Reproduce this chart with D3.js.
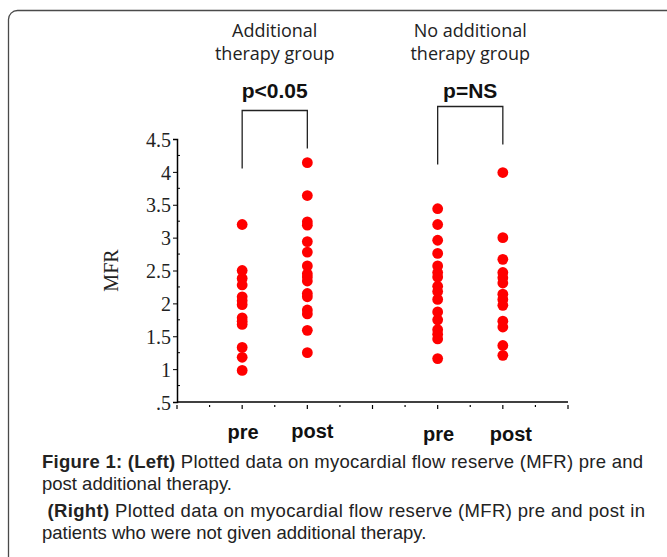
<!DOCTYPE html>
<html>
<head>
<meta charset="utf-8">
<script src="https://cdn.jsdelivr.net/npm/d3@7"></script>
<style>
  body { margin: 0; background: #fff; }
</style>
</head>
<body>
<script>
//Data
    const groups = ["Additional therapy group", "No additional therapy group"];
    const groupLines = [["Additional", "therapy group"], ["No additional", "therapy group"]];
    const pValues = ["p<0.05", "p=NS"];
    const phases = ["pre", "post"];

    const addPre = [3.2, 2.5, 2.38, 2.28, 2.1, 2.04, 1.98, 1.78, 1.73, 1.68, 1.33, 1.18, 0.98];
    const addPost = [4.14, 3.64, 3.24, 3.19, 2.94, 2.78, 2.57, 2.45, 2.4, 2.34, 2.15, 2.1, 1.9, 1.84, 1.59, 1.25];
    const noPre = [3.44, 3.2, 2.96, 2.76, 2.57, 2.47, 2.4, 2.26, 2.18, 2.06, 1.87, 1.75, 1.6, 1.53, 1.46, 1.16];
    const noPost = [3.99, 3.0, 2.67, 2.47, 2.39, 2.31, 2.14, 2.06, 1.97, 1.73, 1.64, 1.36, 1.21];

    //x positions (axis units) of pre/post for each group
    const xPositions = [[2, 4], [8, 10]];

    const yTicks = [0.5, 1, 1.5, 2, 2.5, 3, 3.5, 4, 4.5];

    const captionLines = [
        [{b: "Figure 1: (Left)"}, {t: " Plotted data on myocardial flow reserve (MFR) pre and"}],
        [{t: "post additional therapy."}],
        [{t: " "}, {b: "(Right)"}, {t: " Plotted data on myocardial flow reserve (MFR) pre and post in"}],
        [{t: "patients who were not given additional therapy."}]
    ];


//Set up dimensions
    const width = 667;
    const height = 557;
    const plotLeft = 177, plotRight = 568, plotTop = 139, plotBottom = 402;


//Set up scales
    const xScale = d3.scaleLinear()
                    .domain([0, 12])
                    .range([plotLeft, plotRight]);

    const yScale = d3.scaleLinear()
                    .domain([0.5, 4.5])
                    .range([plotBottom, plotTop]);


//Make the SVG
    const svg = d3.select("body")
                .append("svg")
                .attr("width", width)
                .attr("height", height);

    //frame
    svg.append("rect")
        .attr("x", 8.5)
        .attr("y", 10.5)
        .attr("width", 700)
        .attr("height", 600)
        .attr("rx", 9)
        .attr("fill", "none")
        .attr("stroke", "#4a4a4a")
        .attr("stroke-width", 1.3);


//Axes
    const leftAxis = d3.axisLeft(yScale)
                       .tickValues(yTicks)
                       .tickSize(4)
                       .tickPadding(2)
                       .tickFormat(d => d === 0.5 ? ".5" : String(d));

    const gy = svg.append("g")
        .attr("transform", "translate(" + plotLeft + ",0)")
        .call(leftAxis);
    gy.select(".domain").attr("stroke", "#000").attr("stroke-width", 1.5);
    gy.selectAll("text")
        .attr("font-family", "'Liberation Serif', 'Times New Roman', serif")
        .attr("font-size", 20)
        .attr("fill", "#222")
        .attr("dy", "0.36em");

    //minor y ticks
    svg.append("g")
        .selectAll("line")
        .data(d3.range(0.75, 4.5, 0.5))
        .enter()
        .append("line")
        .attr("x1", plotLeft)
        .attr("x2", plotLeft + 3)
        .attr("y1", d => yScale(d))
        .attr("y2", d => yScale(d))
        .attr("stroke", "#000");

    //x axis line and ticks
    svg.append("line")
        .attr("x1", plotLeft)
        .attr("x2", plotRight)
        .attr("y1", plotBottom)
        .attr("y2", plotBottom)
        .attr("stroke", "#000")
        .attr("stroke-width", 1.5);

    svg.append("g")
        .selectAll("line")
        .data(d3.range(0, 13))
        .enter()
        .append("line")
        .attr("x1", d => xScale(d))
        .attr("x2", d => xScale(d))
        .attr("y1", plotBottom + 3)
        .attr("y2", d => plotBottom + (d % 2 === 0 ? 7 : 5))
        .attr("stroke", "#000")
        .attr("stroke-width", 1.2);

    svg.append("text")
        .attr("transform", "translate(118," + yScale(2.5) + ") rotate(-90)")
        .attr("text-anchor", "middle")
        .attr("font-family", "'Liberation Serif', 'Times New Roman', serif")
        .attr("font-size", 20)
        .attr("fill", "#222")
        .text("MFR");


//Draw points
    const series = [
        {x: xPositions[0][0], values: addPre},
        {x: xPositions[0][1], values: addPost},
        {x: xPositions[1][0], values: noPre},
        {x: xPositions[1][1], values: noPost}
    ];

    svg.selectAll("g.series")
        .data(series)
        .enter()
        .append("g")
        .attr("class", "series")
        .selectAll("circle")
        .data(s => s.values.map(v => ({x: s.x, v: v})))
        .enter()
        .append("circle")
        .attr("cx", d => xScale(d.x))
        .attr("cy", d => yScale(d.v))
        .attr("r", 5.4)
        .attr("fill", "#ff0000");


//Group titles, p-values and brackets
    const bracketTop = [110.5, 106.5];
    groups.forEach((g, i) => {
        const x0 = xScale(xPositions[i][0]);
        const x1 = xScale(xPositions[i][1]);
        const cx = (x0 + x1) / 2;

        //one text per line so the lines stay apart
        groupLines[i].forEach((line, j) => {
            svg.append("text")
                .attr("x", cx)
                .attr("y", 37 + j * 23)
                .attr("text-anchor", "middle")
                .attr("font-family", "'Open Sans', sans-serif")
                .attr("font-size", 18)
                .attr("fill", "#222")
                .text(line);
        });

        svg.append("text")
            .attr("x", cx)
            .attr("y", 98)
            .attr("text-anchor", "middle")
            .attr("font-family", "'Liberation Sans', Arial, sans-serif")
            .attr("font-weight", "bold")
            .attr("font-size", 21)
            .attr("fill", "#111")
            .text(pValues[i]);

        const t = bracketTop[i];
        svg.append("path")
            .attr("d", "M" + x0 + "," + (t + 58) + "V" + t + "H" + x1 + "V" + (t + 38))
            .attr("fill", "none")
            .attr("stroke", "#222")
            .attr("stroke-width", 1.3);

        phases.forEach((p, j) => {
            svg.append("text")
                .attr("x", xScale(xPositions[i][j]) + (j === 1 ? 5 + i * 3 : 1))
                .attr("y", 439 + i * 2 + (j === 1 ? -1 + i : 0))
                .attr("text-anchor", "middle")
                .attr("font-family", "'Liberation Sans', Arial, sans-serif")
                .attr("font-weight", "bold")
                .attr("font-size", 20)
                .attr("fill", "#111")
                .text(p);
        });
    });


//Caption
    const captionY = [468, 490, 517, 539];
    const justify = [601, null, 603, null];
    captionLines.forEach((line, i) => {
        const txt = svg.append("text")
            .attr("x", 42)
            .attr("y", captionY[i])
            .attr("font-family", "'Liberation Sans', Arial, sans-serif")
            .attr("font-size", 18.5)
            .attr("fill", "#222")
            .attr("xml:space", "preserve")
            .style("white-space", "pre");
        if (justify[i]) {
            txt.attr("textLength", justify[i]).attr("lengthAdjust", "spacing");
        }
        line.forEach(part => {
            txt.append("tspan")
                .attr("font-weight", part.b ? "bold" : null)
                .text(part.b || part.t);
        });
    });
</script>
</body>
</html>
